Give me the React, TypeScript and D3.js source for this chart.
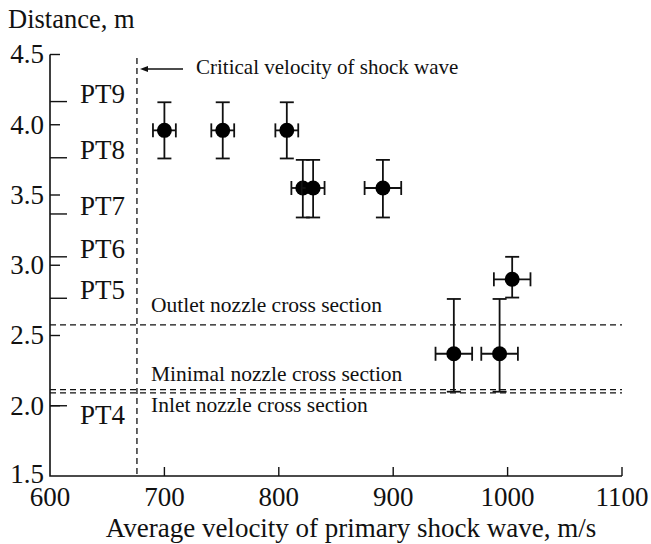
import React from "react";
import * as d3 from "d3";

// Measured shock-wave runs: mean velocity (m/s) vs. distance along the tube (m)
const velocity = [700, 751, 807, 821, 830, 891, 1004, 953, 993];
const distance = [3.96, 3.96, 3.96, 3.55, 3.55, 3.55, 2.9, 2.37, 2.37];
const velocityErr = [10, 10, 10, 10, 10, 16, 16, 16, 16];
const distanceErrUp = [0.2, 0.2, 0.2, 0.2, 0.2, 0.2, 0.16, 0.39, 0.39];
const distanceErrDown = [0.2, 0.2, 0.2, 0.21, 0.21, 0.21, 0.13, 0.27, 0.27];

// Pressure transducer stations along the tube
const sensorNames = ["PT4", "PT5", "PT6", "PT7", "PT8", "PT9"];
const sensorDistance = [2.0, 2.765, 3.06, 3.365, 3.765, 4.165];

// Nozzle cross sections
const sectionNames = ["Outlet nozzle cross section", "Minimal nozzle cross section", "Inlet nozzle cross section"];
const sectionDistance = [2.575, 2.115, 2.092];

const criticalVelocity = 676;

const xTicks = [600, 700, 800, 900, 1000, 1100];
const yTicks = [1.5, 2.0, 2.5, 3.0, 3.5, 4.0, 4.5];

const W = 651;
const H = 544;
const FONT = "'Liberation Serif', 'Times New Roman', serif";

export default function App() {
  const x = d3.scaleLinear().domain([600, 1100]).range([50, 622]);
  const y = d3.scaleLinear().domain([1.5, 4.5]).range([476, 54.5]);
  const x0 = x(600);
  const y0 = y(1.5);

  const sectionLabelY = [y(sectionDistance[0]) - 13, y(sectionDistance[1]) - 9, y(sectionDistance[2]) + 19];

  return (
    <svg
      width={W}
      height={H}
      viewBox={`0 0 ${W} ${H}`}
      style={{ position: "absolute", left: 0, top: 0, background: "#fff" }}
      fontFamily={FONT}
    >
      <rect width={W} height={H} fill="#fff" />

      {/* axis title (y) */}
      <text x={8} y={28} fontSize={26.5} fill="#111">Distance, m</text>

      {/* axes */}
      <path d={`M${x0},${y(4.5)} V${y0} H${x(1100)}`} fill="none" stroke="#111" strokeWidth={1.6} />

      {/* y ticks */}
      {yTicks.map((t) => (
        <g key={"yt" + t}>
          {t !== 1.5 && <line x1={x0} x2={x0 + 10} y1={y(t)} y2={y(t)} stroke="#111" strokeWidth={1.4} />}
          <text x={44} y={y(t) - (t === 1.5 ? 1.5 : 0)} dy="0.33em" textAnchor="end" fontSize={27} fill="#111">
            {t.toFixed(1)}
          </text>
        </g>
      ))}

      {/* x ticks */}
      {xTicks.map((t) => (
        <g key={"xt" + t}>
          {t !== 600 && <line x1={x(t)} x2={x(t)} y1={y0} y2={y0 - 9} stroke="#111" strokeWidth={1.4} />}
          <text x={x(t)} y={506} textAnchor="middle" fontSize={27} fill="#111">
            {t}
          </text>
        </g>
      ))}

      {/* axis title (x) */}
      <text x={351} y={537} textAnchor="middle" fontSize={27} fill="#111">
        Average velocity of primary shock wave, m/s
      </text>

      {/* transducer stations */}
      {sensorNames.map((name, i) => (
        <g key={name}>
          <line x1={x0} x2={x0 + 17} y1={y(sensorDistance[i])} y2={y(sensorDistance[i])} stroke="#111" strokeWidth={1.4} />
          <text
            x={80}
            y={name === "PT4" ? y(sensorDistance[i]) + 18 : y(sensorDistance[i]) + 1}
            fontSize={27}
            fill="#111"
          >
            {name}
          </text>
        </g>
      ))}

      {/* nozzle cross sections */}
      {sectionNames.map((name, i) => (
        <g key={name}>
          <line
            x1={x0}
            x2={x(1100)}
            y1={y(sectionDistance[i])}
            y2={y(sectionDistance[i])}
            stroke="#111"
            strokeWidth={1.3}
            strokeDasharray="6,4"
          />
          <text x={151} y={sectionLabelY[i]} fontSize={21.5} fill="#111">
            {name}
          </text>
        </g>
      ))}

      {/* critical velocity */}
      <line
        x1={x(criticalVelocity)}
        x2={x(criticalVelocity)}
        y1={58}
        y2={y0}
        stroke="#111"
        strokeWidth={1.3}
        strokeDasharray="6,4"
      />
      <line x1={183} x2={145} y1={69} y2={69} stroke="#111" strokeWidth={1.3} />
      <path d="M140,69 L148,66 L148,72 Z" fill="#111" />
      <text x={196} y={74} fontSize={21} fill="#111">Critical velocity of shock wave</text>

      {/* measurements with error bars */}
      {velocity.map((v, i) => {
        const cx = x(v);
        const cy = y(distance[i]);
        const xl = x(v - velocityErr[i]);
        const xr = x(v + velocityErr[i]);
        const yt = y(distance[i] + distanceErrUp[i]);
        const yb = y(distance[i] - distanceErrDown[i]);
        return (
          <g key={"p" + i} stroke="#111" strokeWidth={1.8}>
            <line x1={cx} x2={cx} y1={yt} y2={yb} />
            <line x1={cx - 7} x2={cx + 7} y1={yt} y2={yt} />
            <line x1={cx - 7} x2={cx + 7} y1={yb} y2={yb} />
            <line x1={xl} x2={xr} y1={cy} y2={cy} />
            <line x1={xl} x2={xl} y1={cy - 7} y2={cy + 7} />
            <line x1={xr} x2={xr} y1={cy - 7} y2={cy + 7} />
            <circle cx={cx} cy={cy} r={7.5} fill="#000" stroke="none" />
          </g>
        );
      })}
    </svg>
  );
}
